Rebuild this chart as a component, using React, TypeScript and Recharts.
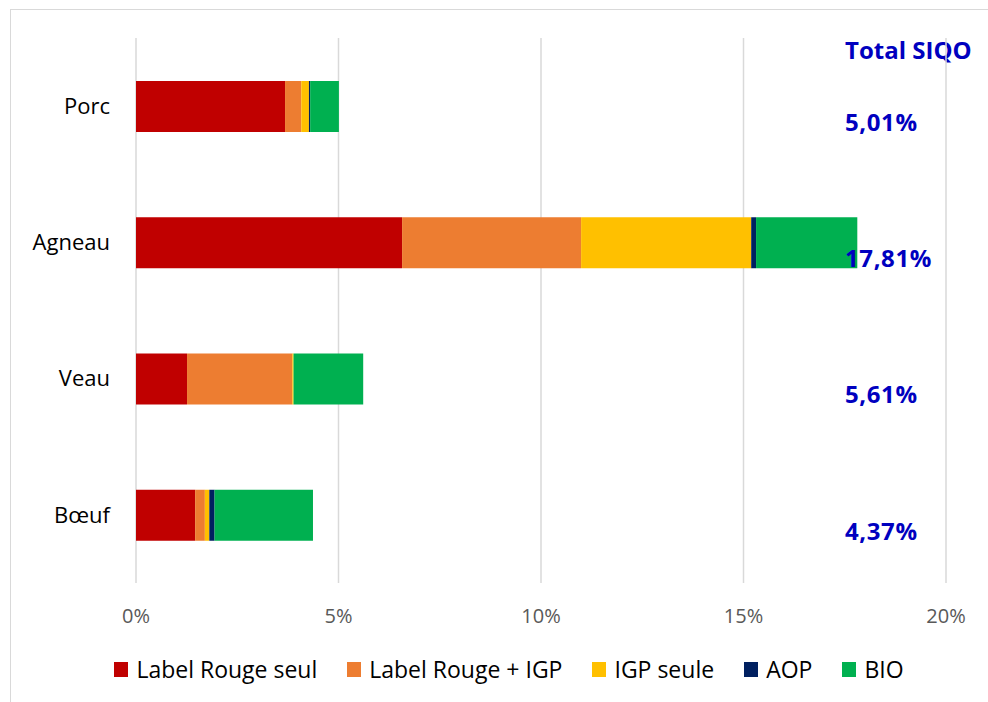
import React from "react";
import { Bar, BarChart, XAxis, YAxis, CartesianGrid, Legend, LabelList } from "recharts";

const categories = ["Porc", "Agneau", "Veau", "Bœuf"];
const labelRougeSeul = [3.68, 6.57, 1.26, 1.46];
const labelRougeIgp = [0.4, 4.42, 2.6, 0.24];
const igpSeule = [0.19, 4.2, 0.03, 0.11];
const aop = [0.03, 0.12, 0, 0.13];
const bio = [0.71, 2.5, 1.72, 2.43];
const totals = [5.01, 17.81, 5.61, 4.37];
const xTicks = [0, 5, 10, 15, 20];

const series = [
  { key: "lr", name: "Label Rouge seul", color: "#C00000" },
  { key: "lrigp", name: "Label Rouge + IGP", color: "#ED7D31" },
  { key: "igp", name: "IGP seule", color: "#FFC000" },
  { key: "aop", name: "AOP", color: "#002060" },
  { key: "bio", name: "BIO", color: "#00B050" },
];

const data = categories.map((name, i) => ({
  name,
  lr: labelRougeSeul[i],
  lrigp: labelRougeIgp[i],
  igp: igpSeule[i],
  aop: aop[i],
  bio: bio[i],
  total: totals[i],
}));

const FONT = "'Open Sans', sans-serif";
const BLUE = "#0000BF";

// zero-height wrapper so the legend doesn't eat into the plot area
function LegendContent() {
  return (
    <div style={{ height: 0, overflow: "visible" }}>
      <div
        style={{
          display: "flex",
          justifyContent: "center",
          alignItems: "center",
          transform: "translateY(-50%)",
          paddingLeft: 30,
          fontFamily: FONT,
          fontSize: 23,
          color: "#000",
          whiteSpace: "nowrap",
        }}
      >
        {series.map((s) => (
          <div key={s.key} style={{ display: "flex", alignItems: "center", margin: "0 15px" }}>
            <span style={{ width: 14, height: 15, background: s.color, display: "inline-block", marginRight: 8 }} />
            <span>{s.name}</span>
          </div>
        ))}
      </div>
    </div>
  );
}

function TotalLabel(props: any) {
  const { y, height, value } = props;
  return (
    <text x={845} y={y + height / 2 + 18} fill={BLUE} fontFamily={FONT} fontSize={24} fontWeight={700} letterSpacing={0.6} dominantBaseline="middle">
      {Number(value).toFixed(2).replace(".", ",")}%
    </text>
  );
}

export default function App() {
  return (
    <div style={{ position: "absolute", left: 0, top: 0, width: 988, height: 702, overflow: "hidden", background: "#fff" }}>
      <div style={{ position: "absolute", left: 10, top: 9, width: 1100, height: 1100, border: "1.5px solid #d9d9d9" }} />
      <div style={{ position: "absolute", left: 845, top: 33, fontFamily: FONT, fontSize: 24, fontWeight: 700, color: BLUE, whiteSpace: "nowrap" }}>
        Total SIQO
      </div>
      <div style={{ position: "absolute", left: 0, top: 0 }}>
        <BarChart
          width={988}
          height={702}
          data={data}
          layout="vertical"
          margin={{ top: 38, right: 42, left: 36, bottom: 69 }}
          barSize={51}
        >
          <CartesianGrid horizontal={false} stroke="#d9d9d9" strokeWidth={1.5} />
          <XAxis
            type="number"
            domain={[0, 20]}
            ticks={xTicks}
            tickFormatter={(v) => `${v}%`}
            axisLine={false}
            tickLine={false}
            tickMargin={20}
            height={50}
            tick={{ fill: "#595959", fontSize: 20, fontFamily: FONT }}
          />
          <YAxis
            type="category"
            dataKey="name"
            width={100}
            axisLine={false}
            tickLine={false}
            tickMargin={20}
            tick={{ fill: "#000", fontSize: 22, fontFamily: FONT }}
          />
          {series.map((s) => (
            <Bar key={s.key} dataKey={s.key} name={s.name} stackId="a" fill={s.color} isAnimationActive={false}>
              {s.key === "bio" ? <LabelList dataKey="total" content={TotalLabel} /> : null}
            </Bar>
          ))}
          <Legend content={LegendContent} wrapperStyle={{ position: "absolute", top: 669, left: 0, width: 988 }} />
        </BarChart>
      </div>
    </div>
  );
}
